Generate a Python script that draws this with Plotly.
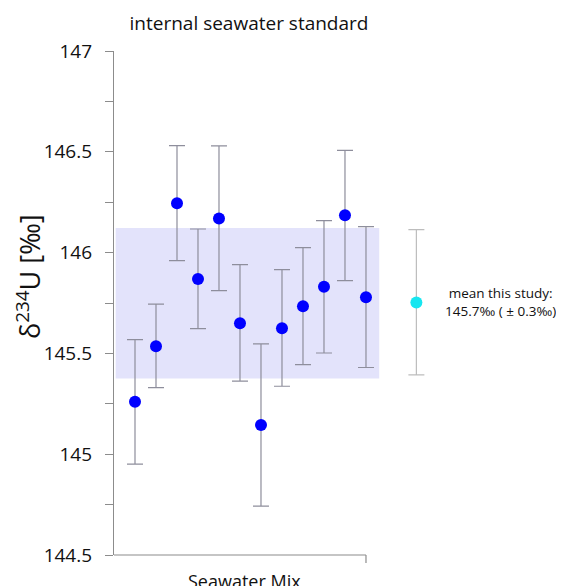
import plotly.graph_objects as go

# Data
sample_x = [1, 2, 3, 4, 5, 6, 7, 8, 9, 10, 11, 12]
d234u = [145.26, 145.535, 146.245, 145.869, 146.169, 145.649, 145.145, 145.625, 145.734, 145.831, 146.185, 145.778]
err_hi = [145.568, 145.744, 146.531, 146.117, 146.529, 145.940, 145.547, 145.916, 146.025, 146.159, 146.507, 146.129]
err_lo = [144.951, 145.330, 145.960, 145.623, 145.811, 145.362, 144.742, 145.337, 145.444, 145.502, 145.861, 145.430]

mean_x = [14.4]
mean_val = [145.752]
mean_hi = [146.114]
mean_lo = [145.393]

band_low, band_high = 145.375, 146.122
band_x0, band_x1 = 0.08, 12.63
axis_x_end = 12
x_max = 21.43

y_ticks = [144.5, 145, 145.5, 146, 146.5, 147]
y_ticklabels = ["144.5", "145", "145.5", "146", "146.5", "147"]

FONT = "Open Sans"
GRAY = "#8c8c8c"
PAGE_OFFSET = 8  # default body margin of the html page

W, H = 564 - PAGE_OFFSET, 586 - PAGE_OFFSET
L, T, B = 114 - PAGE_OFFSET, 51 - PAGE_OFFSET, 31

fig = go.Figure()

fig.add_shape(type="rect", xref="x", yref="y", x0=band_x0, x1=band_x1,
              y0=band_low, y1=band_high, fillcolor="#E3E3FB", line_width=0, layer="below")

fig.add_trace(go.Scatter(
    x=sample_x, y=d234u, mode="markers",
    marker=dict(color="#0000FF", size=12),
    error_y=dict(type="data", symmetric=False,
                 array=[h - v for h, v in zip(err_hi, d234u)],
                 arrayminus=[v - l for v, l in zip(d234u, err_lo)],
                 color="#8e8e9c", thickness=1.2, width=8),
    showlegend=False, cliponaxis=False))

fig.add_trace(go.Scatter(
    x=mean_x, y=mean_val, mode="markers",
    marker=dict(color="#17E6F0", size=12),
    error_y=dict(type="data", symmetric=False,
                 array=[mean_hi[0] - mean_val[0]],
                 arrayminus=[mean_val[0] - mean_lo[0]],
                 color="#bdbdbd", thickness=1.2, width=8),
    showlegend=False, cliponaxis=False))

# x-axis line (only up to the last sample) and its end tick
fig.add_shape(type="line", xref="x", yref="paper", x0=0, x1=axis_x_end, y0=0, y1=0,
              line=dict(color=GRAY, width=1.2))
fig.add_shape(type="line", xref="paper", yref="paper", x0=axis_x_end / x_max, x1=axis_x_end / x_max,
              y0=0, y1=-0.016, line=dict(color=GRAY, width=1.2))

fig.add_annotation(xref="paper", yref="paper", x=(244 - 114) / (564 - 114), xanchor="center",
                   y=0, yanchor="top", yshift=-12, text="Seawater Mix", showarrow=False,
                   font=dict(family=FONT, size=18, color="#111"))

fig.add_annotation(xref="paper", yref="paper", x=(28 - 114) / (564 - 114), xanchor="center",
                   y=(555 - 277) / 504, yanchor="middle", textangle=-90,
                   text="δ<sup>234</sup>U [‰]", showarrow=False,
                   font=dict(family=FONT, size=27, color="#111"))

fig.add_annotation(xref="x", yref="y", x=18.4, y=145.756,
                   text="mean this study:<br>145.7‰ ( ± 0.3‰)", showarrow=False,
                   align="center", font=dict(family=FONT, size=13.5, color="#111"))

fig.update_layout(
    width=W, height=H,
    margin=dict(l=L, r=0, t=T, b=B, pad=0),
    paper_bgcolor="white", plot_bgcolor="white",
    title=dict(text="internal seawater standard", x=(249 - PAGE_OFFSET) / W, xanchor="center",
               y=1 - (23 - PAGE_OFFSET) / H, yanchor="middle",
               font=dict(family=FONT, size=19, color="#111")),
    xaxis=dict(range=[0, x_max], visible=False, fixedrange=True),
    yaxis=dict(range=[144.5, 147], tickvals=y_ticks, ticktext=y_ticklabels,
               showline=True, linecolor=GRAY, linewidth=1.2,
               ticks="outside", ticklen=8, tickcolor=GRAY, tickwidth=1.2,
               minor=dict(dtick=0.25, tick0=144.5, ticks="outside", ticklen=8, tickcolor=GRAY, tickwidth=1.2),
               showgrid=False, zeroline=False, ticklabelstandoff=9,
               tickfont=dict(family=FONT, size=19, color="#111")),
)

fig.write_html("out.html")
